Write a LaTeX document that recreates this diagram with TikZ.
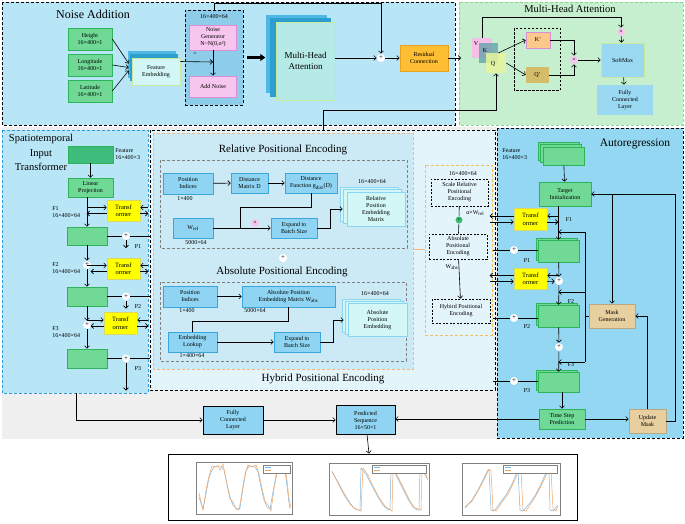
\documentclass[tikz,border=0pt]{standalone}
\usepackage{fontspec}
\setmainfont{Liberation Serif}
\usetikzlibrary{arrows.meta,positioning}
\definecolor{noisebg}{HTML}{B8E6F6}
\definecolor{noisebox}{HTML}{8DCDE9}
\definecolor{mhabg}{HTML}{C6EFD0}
\definecolor{mhaedge}{HTML}{8FD48F}
\definecolor{spaedge}{HTML}{2F9AD8}
\definecolor{hybbg}{HTML}{E4F4FB}
\definecolor{relbg}{HTML}{CBEAF6}
\definecolor{orangeedge}{HTML}{F4B47C}
\definecolor{yellowedge}{HTML}{F0C060}
\definecolor{arbg}{HTML}{93D7F3}
\definecolor{graybg}{HTML}{EFEFEF}
\definecolor{gfill}{HTML}{6FD995}
\definecolor{gedge}{HTML}{2DB35A}
\definecolor{gdark}{HTML}{3EBC7C}
\definecolor{bfill}{HTML}{8FD5F3}
\definecolor{bedge}{HTML}{3AA6DC}
\definecolor{cfill}{HTML}{D2F7F6}
\definecolor{cedge}{HTML}{8AD6F2}
\definecolor{pinkfill}{HTML}{F6C6EE}
\definecolor{pinkedge}{HTML}{D98FD4}
\definecolor{resfill}{HTML}{FDBE33}
\definecolor{resedge}{HTML}{E9A21F}
\definecolor{tanfill}{HTML}{E8CF9F}
\definecolor{yfill}{HTML}{FFFF00}
\definecolor{yedge}{HTML}{D8D86A}
\definecolor{vfill}{HTML}{F5BFE6}
\definecolor{kfill}{HTML}{5E9FA8}
\definecolor{qfill}{HTML}{E7F59C}
\definecolor{kpfill}{HTML}{FDC88C}
\definecolor{qpfill}{HTML}{D5BC6B}
\definecolor{smfill}{HTML}{9BD9F3}
\definecolor{mhafront}{HTML}{B5EAE6}
\definecolor{frontedge}{HTML}{C8EAA0}
\definecolor{stackblue}{HTML}{4DB8E6}
\definecolor{stackdark}{HTML}{2E9ECF}
\definecolor{plotblue}{HTML}{7DB6E0}
\definecolor{plotorange}{HTML}{F5A45E}
\definecolor{greenplus}{HTML}{3CC070}
\begin{document}
\begin{tikzpicture}[x=1pt,y=-1pt,line width=0.6pt,
    arr/.style={-{Straight Barb[length=2.5pt,width=5pt]}},
    rarr/.style={{Straight Barb[length=2.5pt,width=5pt]}-},
    bigarr/.style={line width=2.5pt,-{Triangle[length=5pt,width=7pt]}},
    region/.style={dash pattern=on 3pt off 2pt},
    lbl/.style={font=\fontsize{6}{7}\selectfont,align=center,inner sep=0pt},
    sz/.style 2 args={minimum width=#1pt,minimum height=#2pt},
    gbox/.style={lbl,draw=gedge,fill=gfill},
    bbox/.style={lbl,draw=bedge,fill=bfill},
    ybox/.style={lbl,draw=yedge,fill=yfill,font=\fontsize{6.5}{7.5}\selectfont},
    tbox/.style={lbl,draw=tanfill!80!black,fill=tanfill},
    dbox/.style={lbl,draw,dash pattern=on 2pt off 1.5pt},
    plus/.style={circle,fill=white,inner sep=0pt,minimum size=8pt,font=\fontsize{7}{7}\selectfont},
    mult/.style={circle,fill=pinkfill,inner sep=0pt,minimum size=8pt,font=\fontsize{6}{6}\selectfont},
    title/.style={font=\fontsize{11}{13}\selectfont,inner sep=0pt}]
  \useasboundingbox (0,0) rectangle (685,523);
  \fill[white] (0,0) rectangle (685,523);
  \fill[graybg] (2,127) rectangle (497,439);
  \draw[region,fill=noisebg] (2,2) rectangle (455,125);
  \draw[region,draw=mhaedge,fill=mhabg] (459,2) rectangle (683,125);
  \draw[region,fill=hybbg] (150,130) rectangle (495,390);
  \draw[region,draw=spaedge,fill=noisebg] (2,130) rectangle (148,393);
  \draw[region,fill=arbg] (497,128) rectangle (683,438);
  \draw[region,draw=orangeedge,fill=relbg] (153,133) rectangle (413,369);
  \draw[region,draw=gray] (160,160) rectangle (407,248);
  \draw[region,draw=gray] (160,282) rectangle (406,361);
  \draw[region,draw=yellowedge] (425,165) rectangle (492,335);
  \draw[orangeedge] (413,249) -- (425,249);

  % noise addition
  \node[font=\fontsize{12}{14}\selectfont,inner sep=0pt] (tNoise) at (93,14) {Noise Addition};
  \node[gbox,sz={44}{22}] (height) at (90,39) {Height\\16×400×1};
  \node[gbox,sz={44}{22}] (lon) at (90,65) {Longitude\\16×400×1};
  \node[gbox,sz={44}{22}] (lat) at (90,91) {Latitude\\16×400×1};
  \fill[stackblue] (128,51) rectangle (176,78);
  \fill[stackdark] (130,54) rectangle (178,81);
  \node[lbl,draw=frontedge,fill=cfill,sz={48}{27}] (fe) at (156,71.5) {Feature\\Embedding};
  \node[region,draw,fill=noisebox,sz={58}{95}] (nbox) at (214,57.5) {};
  \node[lbl] (dimNoise) at (214,17) {16×400×64};
  \node[lbl,draw=pinkedge,fill=pinkfill,sz={47}{25}] (ngen) at (213,37.5) {Noise\\Generator\\N\textasciitilde N(0,σ²)};
  \node[lbl,draw=pinkedge,fill=pinkfill,sz={47}{21}] (addn) at (213,86.5) {Add Noise};
  \node[lbl] (tPlus) at (195,54) {+};
  \coordinate (jNoise) at (213,62);
  \fill[stackblue] (266,15) rectangle (327,93);
  \fill[stackdark] (270,18) rectangle (331,97);
  \node[lbl,draw=frontedge,fill=mhafront,sz={59}{78},font=\fontsize{9}{11}\selectfont] (mha) at (305.5,61) {Multi-Head\\Attention};
  \node[plus] (sum1) at (381,58) {+};
  \node[lbl,draw=resedge,fill=resfill,sz={48}{26}] (res) at (424,58) {Residual\\Connection};
  \coordinate (mhaIn) at (461,58);

  \draw[arr] (height.east) -- ([xshift=-3pt,yshift=8pt]fe.west);
  \draw[arr] (lon.east) -- ([xshift=-3pt,yshift=4pt]fe.west);
  \draw[arr] (lat.east) -- ([xshift=-3pt,yshift=1pt]fe.west);
  \draw[arr] ([yshift=10pt]fe.east) -- (jNoise);
  \draw[arr] (ngen) -- (addn);
  \draw[bigarr] (nbox.east) ++(4,0) -- ++(18,0);
  \draw[arr] (nbox.north) -- ++(0,-6) -| (sum1);
  \draw[arr] (mha.east |- sum1) -- (sum1);
  \draw[arr] (sum1) -- (res);
  \draw[arr] (res) -- (mhaIn);

  % multi-head attention
  \node[font=\fontsize{10.5}{12}\selectfont,inner sep=0pt] (tMha) at (570,9) {Multi-Head Attention};
  \node[fill=vfill,sz={20}{20},inner sep=0pt] (vbox) at (482,48) {};
  \node[fill=kfill,fill opacity=0.75,sz={19}{20},inner sep=0pt] (kbox) at (488.5,53) {};
  \node[fill=qfill,fill opacity=0.85,sz={20}{20},inner sep=0pt] (qbox) at (496,63) {};
  \node[lbl] (tV) at (476,44) {V};
  \node[lbl] (tK) at (485,51) {K};
  \node[lbl] (tQ) at (493,64) {Q};
  \draw[dash pattern=on 2.5pt off 1.5pt] (514,28) rectangle (560,90);
  \node[lbl,draw=pinkedge,fill=kpfill,sz={24}{16}] (kp) at (538,40) {K'};
  \node[lbl,fill=qpfill,sz={23}{16}] (qp) at (537.5,75) {Q'};
  \node[mult] (mult1) at (574,60) {×};
  \node[mult] (mult2) at (621,32) {×};
  \node[lbl,draw=frontedge,fill=smfill,sz={43}{34}] (sm) at (622.5,60) {SoftMax};
  \node[lbl,fill=smfill,sz={56}{30}] (fcm) at (625,100) {Fully\\Connected\\Layer};
  \coordinate (hybQ) at (323,130);

  \draw[arr] (vbox.north) -- ++(0,-20) -| (mult2);
  \draw[arr] (mult2) -- (sm);
  \draw[arr] (kbox.east) -- (kp.west);
  \draw[arr] (qbox.east) -- (qp.west);
  \draw[arr] (kp.east) -| (mult1);
  \draw[arr] (qp.east) -| (mult1);
  \draw[arr] (mult1) -- (sm);
  \draw[arr] (sm) -- (fcm);
  \draw[arr] (hybQ) -- ++(0,-20) -| (qbox);

  % spatiotemporal input transformer
  \node[title,align=center,font=\fontsize{10.5}{14.5}\selectfont] (tSpa) at (41,152.5) {Spatiotemporal\\Input\\Transformer};
  \node[lbl,draw=gedge,fill=gdark,sz={45}{17}] (feat1) at (90.5,154.5) {};
  \node[lbl,anchor=west,align=left] (tFeat1) at (115,154) {Feature\\16×400×3};
  \node[gbox,sz={45}{19}] (lin) at (90.5,187.5) {Linear\\Projection};
  \node[ybox,sz={33}{21}] (tr1) at (123.5,210.5) {Transf\\ormer};
  \node[ybox,sz={33}{21}] (tr2) at (123.5,268.5) {Transf\\ormer};
  \node[ybox,sz={33}{22}] (tr3) at (120.5,323) {Transf\\ormer};
  \node[gbox,sz={40}{18}] (b1) at (87,236) {};
  \node[gbox,sz={40}{19}] (b2) at (87,296.5) {};
  \node[gbox,sz={40}{19}] (b3) at (87,358.5) {};
  \node[plus] (f2) at (87,265) {+};
  \node[plus] (f3) at (87,325) {+};
  \node[plus] (p1) at (126,236) {+};
  \node[plus] (p2) at (126,296.5) {+};
  \node[plus] (p3) at (126,358.5) {+};
  \node[lbl,anchor=west,align=left] (tF1) at (52,212) {F1\\16×400×64};
  \node[lbl,anchor=west,align=left] (tF2) at (52,268) {F2\\16×400×64};
  \node[lbl,anchor=west,align=left] (tF3) at (52,332) {F3\\16×400×64};
  \node[lbl] (tP1) at (138,247) {P1};
  \node[lbl] (tP2) at (138,307) {P2};
  \node[lbl] (tP3) at (138,369) {P3};
  \coordinate (pe1) at (150,236);
  \coordinate (pe2) at (150,296.5);
  \coordinate (pe3) at (150,358.5);
  \coordinate (spaOut) at (76,393);

  \draw[arr] (feat1) -- (lin);
  \draw[arr] (lin.south -| b1) -- (b1);
  \draw[arr] (b1) -- (f2);
  \draw[arr] (f2) -- (b2);
  \draw[arr] (b2) -- (f3);
  \draw[arr] (f3) -- (b3);
  \draw[rarr] ([yshift=3pt]tr1.west) -- ++(-20,0);
  \draw[arr] ([yshift=-3pt]tr1.west) -- ++(-20,0);
  \draw[rarr] ([yshift=3pt]tr2.west) -- ++(-20,0);
  \draw[arr] ([yshift=-3pt]tr2.west) -- ++(-16,0);
  \draw[rarr] ([yshift=3pt]tr3.west) -- ++(-17,0);
  \draw[arr] ([yshift=-3pt]tr3.west) -- ++(-13,0);
  \draw[rarr] ([yshift=3pt]tr1.east) -- ++(8,0);
  \draw[arr] ([yshift=-3pt]tr1.east) -- ++(8,0);
  \draw[rarr] ([yshift=3pt]tr2.east) -- ++(8,0);
  \draw[arr] ([yshift=-3pt]tr2.east) -- ++(8,0);
  \draw[rarr] ([yshift=3pt]tr3.east) -- ++(11,0);
  \draw[arr] ([yshift=-3pt]tr3.east) -- ++(11,0);
  \draw (b1) -- (p1) -- (pe1);
  \draw (b2) -- (p2) -- (pe2);
  \draw (b3) -- (p3) -- (pe3);
  \draw[arr] (p1) -- ++(0,12);
  \draw[arr] (p2) -- ++(0,12);
  \draw[arr] (p3) -- ++(0,32);

  % relative positional encoding
  \node[title] (tRel) at (283,150) {Relative Positional Encoding};
  \node[bbox,sz={50}{21}] (pi1) at (188,183.5) {Position\\Indices};
  \node[bbox,sz={37}{20}] (dm) at (249.5,183) {Distance\\Matrix D};
  \node[bbox,sz={52}{20}] (df) at (311,183) {Distance\\Function g\textsubscript{dist}(D)};
  \node[bbox,sz={40}{20}] (wrel) at (193,228) {W\textsubscript{rel}};
  \node[bbox,sz={46}{20}] (exp1) at (294,228) {Expand to\\Batch Size};
  \draw[cedge,fill=cfill] (340,187) rectangle (398,221);
  \draw[cedge,fill=cfill] (343,189.5) rectangle (401,223.5);
  \node[lbl,draw=cedge,fill=cfill,sz={58}{34}] (rpe) at (376,209) {Relative\\Position\\Embedding\\Matrix};
  \node[mult] (mult3) at (255,223) {×};
  \node[lbl] (dPi1) at (185,199) {1×400};
  \node[lbl] (dWrel) at (196,243) {5000×64};
  \node[lbl] (dRpe) at (372,182) {16×400×64};
  \coordinate (jr) at (240,228);

  \draw[arr] (pi1) -- (dm);
  \draw[arr] (dm) -- (df);
  \draw (df.south) -- ++(0,14) -| (jr);
  \draw[arr] (wrel) -- (exp1);
  \draw[arr] (exp1.east) -- ++(13,0) |- ([xshift=-4pt]rpe.west);

  % absolute positional encoding
  \node[plus] (plusHyb) at (283,258) {+};
  \node[title] (tAbs) at (282,272) {Absolute Positional Encoding};
  \node[bbox,sz={54}{21}] (pi2) at (190,296.5) {Position\\Indices};
  \node[bbox,sz={93}{21}] (wabs) at (288.5,296.5) {Absolute Position\\Embedding Matrix W\textsubscript{abs}};
  \node[bbox,sz={49}{20}] (el) at (192.5,342) {Embedding\\Lookup};
  \node[bbox,sz={46}{20}] (exp2) at (297,342) {Expand to\\Batch Size};
  \draw[cedge,fill=cfill] (342,299) rectangle (400,332);
  \draw[cedge,fill=cfill] (345,301.5) rectangle (403,334.5);
  \node[lbl,draw=cedge,fill=cfill,sz={59}{33}] (ape) at (377.5,320) {Absolute\\Position\\Embedding};
  \node[lbl] (dPi2) at (187,311) {1×400};
  \node[lbl] (dWabs) at (255,311) {5000×64};
  \node[lbl] (dApe) at (375,294) {16×400×64};
  \node[lbl] (dEl) at (192,356) {1×400×64};
  \node[title] (tHyb) at (323,379) {Hybrid Positional Encoding};

  \draw[arr] (pi2) -- (wabs);
  \draw (wabs.south) -- ++(0,14) -| (el.north);
  \draw[arr] (el) -- (exp2);
  \draw[arr] (exp2.east) -- ++(13,0) |- ([xshift=-4pt]ape.west);

  % hybrid combination
  \node[lbl] (dSrpe) at (463,174) {16×400×64};
  \node[dbox,sz={57}{27}] (srpe) at (459.5,192.5) {Scale Relative\\Positional\\Encoding};
  \node[circle,fill=greenplus,inner sep=0pt,minimum size=7pt,font=\fontsize{6}{6}\selectfont] (gsum) at (459,220) {+};
  \node[lbl,anchor=west] (tAlpha) at (466,213) {α×W\textsubscript{rel}};
  \node[dbox,sz={58}{25}] (apeh) at (458,246.5) {Absolute\\Positional\\Encoding};
  \node[lbl] (tWabs) at (452,267) {W\textsubscript{abs}};
  \node[dbox,sz={58}{24}] (hpe) at (461,311) {Hybird Positional\\Encoding};

  \draw (srpe) -- (gsum);
  \draw (gsum) -- (apeh);
  \draw[arr] (apeh) -- (hpe);

  % autoregression
  \node[title,font=\fontsize{11.5}{13}\selectfont] (tAr) at (635,144) {Autoregression};
  \node[lbl,anchor=west,align=left] (tFeat2) at (502,154) {Feature\\16×400×3};
  \draw[gedge,fill=gfill] (538,142) rectangle (579,160);
  \draw[gedge,fill=gfill] (540.5,144.5) rectangle (581.5,162.5);
  \node[gbox,sz={41}{18}] (fst) at (563.5,156) {};
  \node[gbox,sz={52}{24}] (ti) at (565,194) {Target\\Initialization};
  \node[ybox,sz={33}{22}] (tr4) at (530.5,219) {Transf\\ormer};
  \node[ybox,sz={33}{21}] (tr5) at (530.5,278.5) {Transf\\ormer};
  \draw[gedge,fill=gfill] (536.5,238) rectangle (577.5,260);
  \node[gbox,sz={41}{22}] (a1) at (558.5,251) {};
  \draw[gedge,fill=gfill] (536.5,303) rectangle (577.5,325);
  \node[gbox,sz={41}{22}] (a2) at (558.5,316) {};
  \draw[gedge,fill=gfill] (536.5,370) rectangle (577.5,390);
  \node[gbox,sz={41}{20}] (a3) at (558.5,382) {};
  \node[plus] (ca) at (559,281) {+};
  \node[plus] (cb) at (559,347) {+};
  \node[plus] (pl1) at (514,250) {+};
  \node[plus] (pl2) at (514,318) {+};
  \node[plus] (pl3) at (514,381) {+};
  \node[lbl] (tF1b) at (569,220) {F1};
  \node[lbl] (tF2b) at (571,302) {F2};
  \node[lbl] (tF3b) at (571,365) {F3};
  \node[lbl] (tP1b) at (527,261) {P1};
  \node[lbl] (tP2b) at (527,327) {P2};
  \node[lbl] (tP3b) at (527,391) {P3};
  \node[gbox,sz={46}{20}] (tsp) at (562,419) {Time Step\\Prediction};
  \node[tbox,sz={37}{24}] (um) at (647.5,421) {Update\\Mask};
  \node[tbox,sz={46}{24}] (mg) at (612,316) {Mask\\Generation};
  \coordinate (fbTop) at (585,232);
  \coordinate (fbMid) at (585,292);
  \coordinate (fbBot) at (585,362);
  \coordinate (q1) at (493,250);
  \coordinate (q2) at (493,318);
  \coordinate (q3) at (493,381);

  \draw[arr] (fst) -- (ti);
  \draw[arr] (ti.south -| a1) -- (a1);
  \draw[arr] (a1) -- (ca);
  \draw[arr] (ca) -- (a2);
  \draw[arr] (a2) -- (cb);
  \draw[arr] (cb) -- (a3);
  \draw[arr] (a3.south -| tsp) -- (tsp);
  \draw[arr] ([yshift=3pt]tr4.west) -- ++(-24,0);
  \draw[rarr] ([yshift=-3pt]tr4.west) -- ++(-24,0);
  \draw[arr] ([yshift=3pt]tr5.west) -- ++(-24,0);
  \draw[rarr] ([yshift=-3pt]tr5.west) -- ++(-24,0);
  \draw[rarr] ([yshift=3pt]tr4.east) -- ++(12,0);
  \draw[arr] ([yshift=-3pt]tr4.east) -- ++(11,0);
  \draw[rarr] ([yshift=3pt]tr5.east) -- ++(12,0);
  \draw[arr] ([yshift=-3pt]tr5.east) -- (ca);
  \draw (q1) -- (pl1) -- (a1.west |- pl1);
  \draw (q2) -- (pl2) -- (a2.west |- pl2);
  \draw (q3) -- (pl3) -- (a3.west |- pl3);
  \draw (fbTop) -- (fbBot);
  \draw (mg.west) -- (mg.west -| fbTop);
  \draw[arr] (fbTop) -- (fbTop -| a1);
  \draw[arr] (fbMid) -- (fbMid -| a1);
  \draw[arr] (fbBot) -- (fbBot -| a1);
  \draw[arr] (tsp.east) -- (um.west |- tsp.east);
  \draw[arr] (um.north) |- (mg.east);
  \draw[arr] (um.east) -- ++(9,0) |- (ti.east);
  \draw[arr] (mg.north |- ti.east) -- (mg.north);

  % output
  \node[lbl,draw,fill=bfill,sz={60}{28}] (fcl) at (233,420) {Fully\\Connected\\Layer};
  \node[lbl,draw,fill=bfill,sz={59}{29}] (pred) at (365.5,420) {Predicted\\Sequence\\16×50×1};
  \node[draw,line width=0.8pt,sz={409}{66}] (charts) at (372.5,487) {};
  \draw[arr] (spaOut) |- (fcl);
  \draw[arr] (fcl) -- (pred);
  \draw[arr] (tsp.west) -- (pred.east |- tsp.west);
  \draw[arr] (pred) -- (charts);

  \draw[line width=0.3pt,gray] (196,462) rectangle (292,514);
  \draw[line width=0.3pt,gray] (329,463) rectangle (429,515);
  \draw[line width=0.3pt,gray] (462,463) rectangle (560,515);
  \draw[plotblue,line width=0.5pt] plot coordinates {(199,497) (203,509) (206,494) (209,478) (212,470) (215,466) (221,466) (224,470) (227,484) (230,497) (233,505) (237,509) (240,508) (243,488) (246,471) (249,466) (255,467) (258,472) (261,487) (264,500) (267,507) (270,509) (273,492) (276,475) (280,467) (283,467) (285,470) (287,486) (289,503) (290,509)};
  \draw[plotorange,line width=0.5pt] plot coordinates {(199,493) (203,510) (206,490) (209,476) (212,466) (216,467) (218,466) (220,470) (223,464) (226,480) (230,499) (233,502) (236,509) (239,510) (242,492) (245,474) (248,465) (252,467) (256,465) (259,474) (262,488) (265,501) (268,505) (271,511) (274,489) (277,473) (280,466) (283,468) (285,468) (287,480) (289,499) (291,507)};
  \draw[plotblue,line width=0.5pt] plot coordinates {(332,472) (338,482) (344,493) (350,503) (354,508) (358,510) (360,510) (361,468) (366,474) (372,486) (378,497) (383,505) (387,509) (390,510) (391,468) (396,475) (402,487) (408,499) (413,507) (417,510) (419,510) (420,468) (424,473) (427,478)};
  \draw[plotorange,line width=0.5pt] plot coordinates {(332,471) (338,483) (344,495) (350,504) (355,509) (359,510) (361,511) (363,468) (368,475) (374,488) (380,499) (385,506) (389,509) (392,511) (393,469) (398,477) (404,489) (410,501) (415,508) (419,509) (421,510) (422,469) (426,475) (428,480)};
  \draw[plotblue,line width=0.5pt] plot coordinates {(465,508) (472,500) (478,490) (484,478) (488,470) (489,470) (491,510) (494,511) (500,503) (506,495) (512,484) (517,472) (518,470) (520,510) (523,511) (530,503) (536,494) (542,482) (547,470) (549,470) (550,510) (553,511) (557,506)};
  \draw[plotorange,line width=0.5pt] plot coordinates {(465,507) (472,501) (478,491) (484,480) (489,469) (491,471) (493,510) (496,511) (502,502) (508,494) (514,482) (519,470) (521,471) (523,510) (526,511) (532,502) (538,492) (544,480) (549,469) (551,470) (553,509) (556,511) (558,505)};
  \draw[line width=0.3pt,gray,fill=white] (263,465) rectangle (290,473);
  \draw[plotblue] (265,467.5) -- (271,467.5);
  \draw[plotorange] (265,470.5) -- (271,470.5);
  \draw[line width=0.3pt,gray,fill=white] (372,465) rectangle (426,473);
  \draw[plotblue] (374,467.5) -- (380,467.5);
  \draw[plotorange] (374,470.5) -- (380,470.5);
  \draw[line width=0.3pt,gray,fill=white] (503,465) rectangle (557,473);
  \draw[plotblue] (505,467.5) -- (511,467.5);
  \draw[plotorange] (505,470.5) -- (511,470.5);
\end{tikzpicture}
\end{document}
